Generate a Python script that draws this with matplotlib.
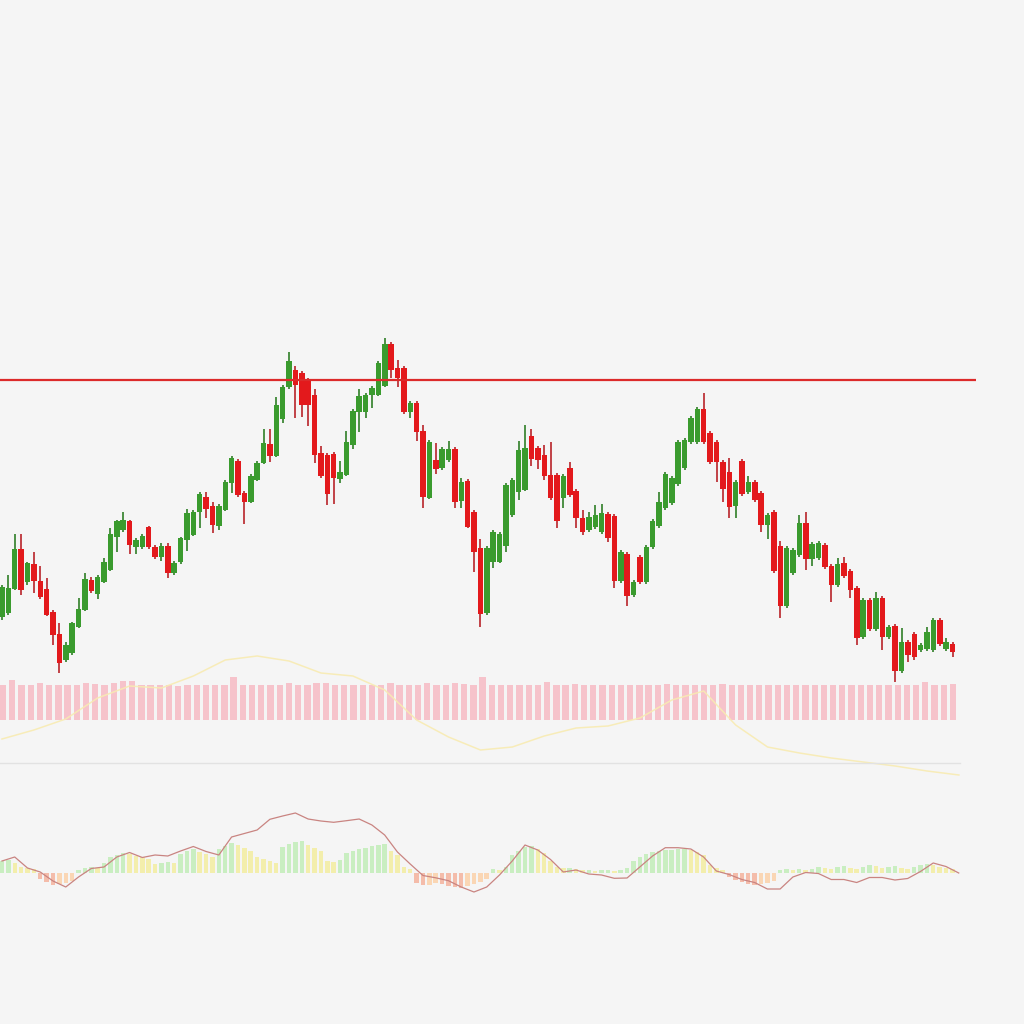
import matplotlib
matplotlib.use('Agg')
import matplotlib.pyplot as plt
import numpy as np

# ---- datos: velas (open, high, low, close) ----
opens = [383, 387, 411, 451, 418, 436, 419, 411, 388, 366, 340, 347, 373, 390, 420, 406, 418, 430, 463, 470,
         479, 453, 453, 473, 453, 443, 454, 427, 438, 460, 465, 488, 503, 494, 474, 490, 517, 539, 507, 498,
         520, 537, 556, 544, 581, 613, 630, 627, 620, 605, 547, 545, 546, 521, 525, 555, 588, 588, 605, 605,
         614, 656, 632, 632, 588, 597, 569, 502, 540, 532, 540, 551, 499, 519, 488, 452, 387, 438, 438, 454,
         485, 508, 510, 564, 552, 545, 525, 525, 502, 532, 509, 482, 470, 473, 468, 486, 484, 419, 446, 405,
         443, 418, 453, 474, 492, 497, 516, 532, 558, 558, 591, 567, 558, 538, 528, 494, 539, 508, 518, 507,
         475, 488, 454, 394, 427, 445, 477, 441, 442, 455, 434, 415, 437, 429, 412, 363, 400, 371, 402, 363,
         374, 329, 358, 366, 350, 351, 350, 380, 351, 356]
highs = [415, 425, 466, 466, 438, 448, 434, 422, 390, 377, 358, 378, 402, 427, 423, 425, 442, 472, 480, 488,
         480, 462, 466, 474, 455, 457, 457, 439, 463, 491, 490, 508, 508, 498, 496, 520, 544, 541, 509, 526,
         539, 571, 571, 603, 615, 648, 634, 629, 622, 611, 554, 547, 548, 539, 569, 591, 611, 607, 614, 639,
         662, 658, 640, 634, 599, 599, 575, 560, 557, 553, 559, 553, 522, 521, 490, 461, 454, 470, 468, 517,
         522, 559, 575, 571, 554, 555, 558, 527, 526, 538, 511, 490, 488, 495, 496, 488, 486, 450, 448, 420,
         445, 455, 481, 508, 528, 524, 560, 562, 584, 593, 607, 569, 560, 540, 542, 520, 541, 524, 520, 509,
         487, 490, 459, 454, 452, 485, 488, 458, 459, 457, 436, 442, 443, 431, 414, 402, 402, 408, 404, 375,
         376, 372, 360, 368, 357, 373, 382, 382, 362, 358]
lows = [380, 385, 410, 405, 415, 407, 401, 384, 355, 327, 338, 345, 372, 389, 407, 401, 417, 429, 448, 468,
        446, 446, 451, 451, 441, 439, 422, 425, 436, 449, 464, 472, 482, 467, 470, 489, 507, 503, 476, 497,
        519, 536, 538, 543, 577, 611, 582, 583, 574, 537, 522, 495, 496, 517, 524, 551, 568, 582, 592, 604,
        613, 622, 613, 586, 582, 559, 492, 501, 526, 530, 538, 492, 492, 472, 428, 373, 385, 432, 437, 448,
        483, 500, 509, 534, 531, 520, 500, 472, 492, 503, 472, 465, 468, 471, 466, 458, 412, 417, 394, 403,
        416, 416, 451, 472, 490, 495, 514, 530, 556, 556, 556, 536, 518, 498, 482, 482, 504, 506, 498, 468,
        461, 427, 382, 392, 425, 443, 430, 434, 440, 431, 398, 413, 422, 402, 355, 361, 369, 369, 350, 361,
        318, 327, 338, 340, 348, 349, 348, 354, 349, 343]
closes = [413, 412, 451, 410, 437, 419, 403, 385, 365, 337, 355, 377, 391, 421, 409, 423, 438, 466, 479, 480,
          455, 460, 464, 453, 443, 454, 427, 437, 462, 487, 488, 506, 491, 475, 494, 518, 542, 505, 498, 524,
          537, 557, 544, 595, 613, 639, 615, 595, 595, 545, 524, 506, 522, 528, 558, 589, 604, 605, 612, 637,
          656, 630, 622, 588, 597, 568, 503, 558, 531, 551, 551, 498, 518, 473, 448, 386, 452, 468, 466, 515,
          520, 550, 552, 541, 540, 524, 502, 479, 524, 505, 482, 468, 483, 485, 487, 462, 419, 448, 404, 418,
          418, 453, 479, 498, 526, 522, 558, 560, 582, 591, 558, 538, 538, 511, 493, 518, 506, 518, 500, 475,
          485, 429, 394, 452, 450, 477, 441, 456, 457, 433, 415, 436, 424, 410, 362, 400, 371, 402, 363, 373,
          329, 358, 345, 343, 355, 368, 380, 356, 358, 348]
resistencia = 620

# ---- volumen ----
volumen = [3470, 3970, 3470, 3470, 3670, 3470, 3470, 3470, 3470, 3730, 3630, 3470, 3670, 3900, 3900, 3470,
           3470, 3470, 3470, 3400, 3470, 3470, 3470, 3470, 3470, 4300, 3470, 3470, 3470, 3470, 3470, 3670,
           3470, 3470, 3670, 3730, 3470, 3470, 3470, 3470, 3470, 3470, 3730, 3470, 3470, 3470, 3670, 3470,
           3470, 3730, 3570, 3470, 4300, 3470, 3470, 3470, 3500, 3470, 3470, 3800, 3470, 3470, 3600, 3470,
           3470, 3470, 3470, 3550, 3470, 3470, 3470, 3470, 3600, 3470, 3470, 3470, 3470, 3470, 3650, 3470,
           3470, 3470, 3470, 3470, 3470, 3500, 3470, 3470, 3470, 3470, 3470, 3470, 3470, 3470, 3470, 3470,
           3470, 3500, 3470, 3470, 3800, 3470, 3470, 3600]
# media móvil (muestreada cada 5 velas)
ma_paso = 5
ma_valores = [51, 60, 71, 92, 104, 102, 114, 130, 134, 129, 117, 114, 100, 70, 53, 40,
              43, 54, 62, 64, 72, 90, 99, 65, 43, 37, 32, 28, 24, 19, 15]

# ---- MACD ----
histograma = [12, 13, 10, 6, 5, 4, -6, -9, -12, -11, -10, -8, 3, 5, 6, 5, 10, 16, 18, 20,
              19, 17, 16, 14, 9, 10, 11, 10, 19, 22, 24, 21, 19, 16, 24, 27, 30, 28, 25, 22,
              16, 14, 12, 10, 26, 29, 31, 32, 28, 25, 22, 12, 11, 13, 20, 22, 24, 25, 27, 28,
              29, 22, 18, 6, 4, -10, -12, -12, -10, -11, -13, -14, -15, -13, -11, -9, -6, 4, 3, 6,
              18, 22, 26, 27, 24, 20, 12, 6, 5, 5, 4, 3, 3, 2, 3, 3, 2, 3, 5, 12,
              16, 19, 21, 22, 23, 23, 24, 24, 23, 21, 18, 8, 5, 3, -4, -7, -9, -11, -12, -11,
              -10, -8, 3, 4, 3, 4, 3, 4, 6, 5, 4, 6, 7, 5, 4, 6, 8, 7, 5, 6,
              7, 5, 4, 6, 8, 9, 8, 6, 5, 4]
macd_paso = 2
macd_linea = [12, 16, 5, 1, -8, -14, -4, 4.5, 6, 16,
              20.5, 15.5, 18, 17, 22, 26.5, 21.5, 18, 36, 39.5,
              43, 53.7, 57, 60, 54, 52, 50.7, 52.3, 54, 48,
              38, 21, 9, -2.5, -4.8, -7.7, -14, -19, -14, -2,
              12, 28, 23, 13.5, 1, 3, -1, -2, -5.3, -5,
              6, 17, 25.3, 25.3, 24, 16, 2, -1.5, -6.5, -9.5,
              -16, -16, -4, 0.5, -0.5, -6.5, -6.5, -9.5, -4.5, -4.5,
              -7, -5.5, 1.5, 10, 6.5, 0]

# colores
FONDO = '#f5f5f5'
VERDE = '#3a9b2e'
ROJO = '#e3191c'
ROSA = '#f6c3cb'

n = len(closes)
x = np.arange(n)
xlim_velas = (-0.31, 160.2)

fig = plt.figure(figsize=(10.24, 10.24), dpi=100, facecolor=FONDO)

# ---- panel de precio ----
ax = fig.add_axes([0, 0, 1, 1])
ax.set_facecolor('none')
o = np.array(opens); c = np.array(closes)
colores = np.where(c >= o, VERDE, ROJO)
mechas = np.where(c >= o, '#2f7f27', '#b8242a')
ax.vlines(x, lows, highs, colors=mechas, linewidth=1.2, zorder=2)
cuerpo = np.maximum(np.abs(c - o), 1.5)
ax.bar(x, cuerpo, bottom=np.minimum(o, c), width=0.86, color=colores, zorder=3)
ax.hlines(resistencia, xlim_velas[0], n + 2.6, colors='#dc2a2a', linewidth=1.6, zorder=4)
ax.set_xlim(*xlim_velas)
ax.set_ylim(-24, 1000)
ax.axis('off')

# ---- volumen ----
axv = fig.add_axes([0, 234 / 1024, 1, 150 / 1024])
axv.set_facecolor('none')
xv = np.arange(len(volumen))
axv.bar(xv, volumen, width=0.68, color=ROSA, zorder=2)
axv.set_xlim(-0.33, 110.7)
axv.set_ylim(-7000, 8000)
axv.axis('off')

axm = fig.add_axes([0, 234 / 1024, 1, 150 / 1024])
axm.set_facecolor('none')
xm = np.arange(len(ma_valores)) * ma_paso
axm.plot(xm, ma_valores, color='#f8ebb2', linewidth=1.1, alpha=0.9, zorder=3)
axm.set_xlim(*xlim_velas)
axm.set_ylim(0, 150)
axm.axis('off')

# ---- MACD ----
axd = fig.add_axes([0, 0, 960 / 1024, 261 / 1024])
axd.set_facecolor('none')
h = np.array(histograma) / 100
prev = np.concatenate([[h[0]], h[:-1]])
col_h = []
for v, p in zip(h, prev):
    if v >= 0:
        col_h.append('#c9eec1' if v >= p else '#f3eeac')
    else:
        col_h.append('#f4bcaa' if v < p else '#fad6b4')
axd.bar(np.arange(len(h)), h, width=0.7, color=col_h, zorder=2)
xl = np.arange(len(macd_linea)) * macd_paso
axd.plot(xl, np.array(macd_linea) / 100, color='#c98481', linewidth=0.9, zorder=3)
axd.set_xlim(-0.31, 150.2)
axd.set_ylim(-1.51, 1.10)
for s in ['left', 'right', 'bottom']:
    axd.spines[s].set_visible(False)
axd.spines['top'].set_color('#e2e2e2')
axd.spines['top'].set_linewidth(1.0)
axd.set_xticks([]); axd.set_yticks([])

fig.savefig('out.png', dpi=100, facecolor=FONDO)
